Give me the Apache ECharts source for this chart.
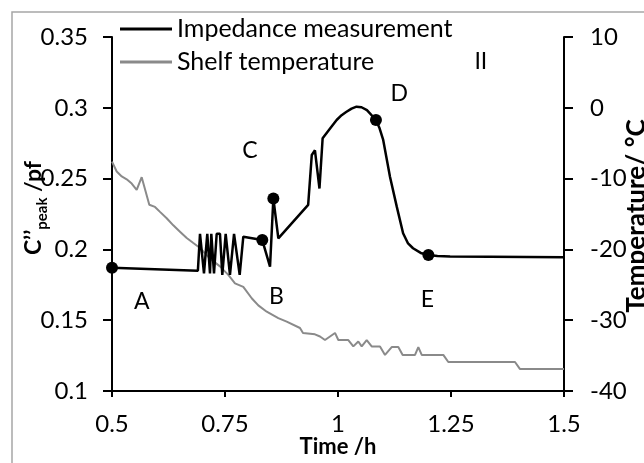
<!DOCTYPE html>
<html>
<head>
<meta charset="utf-8">
<script src="https://cdn.jsdelivr.net/npm/echarts@6/dist/echarts.min.js"></script>
<style>
  html, body { margin: 0; padding: 0; background: #fff; }
  #chart { width: 644px; height: 463px; }
</style>
</head>
<body>
<div id="chart"></div>
<script>
// impedance measurement (left axis)
const impTime = [0.5, 0.69, 0.6947, 0.7035, 0.7108, 0.7168, 0.7197, 0.7257, 0.7316, 0.7389, 0.744, 0.7515, 0.761, 0.770, 0.7825, 0.7905,
  0.8325, 0.8496, 0.857, 0.868, 0.934, 0.942, 0.949, 0.959, 0.966, 0.985, 0.997, 1.008, 1.018, 1.03, 1.041, 1.052, 1.064, 1.084,
  1.092, 1.100, 1.115, 1.130, 1.144, 1.155, 1.166, 1.183, 1.200, 1.22, 1.248, 1.336, 1.5];
const impValue = [0.187, 0.185, 0.211, 0.183, 0.211, 0.183, 0.211, 0.183, 0.211, 0.211, 0.182, 0.211, 0.182, 0.211, 0.182, 0.209,
  0.2066, 0.1878, 0.236, 0.2078, 0.2314, 0.2667, 0.270, 0.243, 0.2785, 0.2865, 0.2914, 0.2948, 0.297, 0.2994, 0.3008, 0.3004, 0.2984, 0.2914,
  0.2855, 0.2773, 0.2513, 0.2302, 0.2114, 0.2042, 0.2008, 0.1975, 0.196, 0.1953, 0.195, 0.1948, 0.1945];

// marked points on the impedance curve
const markTime = [0.5, 0.8325, 0.857, 1.084, 1.2];
const markValue = [0.187, 0.2066, 0.236, 0.2914, 0.196];

// shelf temperature (right axis)
const tempTime = [0.5, 0.5104, 0.5215, 0.5325, 0.5436, 0.5546, 0.5657, 0.5825, 0.5951, 0.6062, 0.621, 0.6356, 0.6504, 0.6653,
  0.6799, 0.6947, 0.7168, 0.7389, 0.7573, 0.7721, 0.7905, 0.8091, 0.8237, 0.8423, 0.8679, 0.8865, 0.9159, 0.9226,
  0.949, 0.9602, 0.9712, 0.9823, 0.9934, 1.0007, 1.0228, 1.0339, 1.0449, 1.0524, 1.0635, 1.0745, 1.0929, 1.104,
  1.1188, 1.1334, 1.1431, 1.1704, 1.1777, 1.1852, 1.233, 1.244, 1.3916, 1.4027, 1.5];
const tempValue = [-7.6, -9.0, -9.7, -10.1, -10.7, -11.6, -9.8, -13.7, -14.0, -14.7, -15.6, -16.6, -17.5, -18.4,
  -19.1, -19.8, -21.3, -22.4, -23.6, -24.8, -25.3, -26.9, -27.9, -28.8, -29.7, -30.2, -31.1, -31.8,
  -32.0, -32.3, -32.8, -32.3, -31.8, -32.8, -32.8, -33.7, -33.0, -33.7, -32.8, -33.7, -33.7, -34.9,
  -33.8, -33.8, -34.9, -34.9, -33.8, -34.9, -34.9, -35.9, -35.9, -36.9, -36.9];

// stage letters (left axis units)
const annoText = ['A', 'B', 'C', 'D', 'II', 'E'];
const annoTime = [0.5657, 0.864, 0.805, 1.1356, 1.316, 1.1976];
const annoValue = [0.163, 0.1666, 0.270, 0.3097, 0.3326, 0.1643];

const xTicks = [0.5, 0.75, 1, 1.25, 1.5];

const font = 'Lato, "Open Sans", sans-serif';
const myChart = echarts.init(document.getElementById('chart'));

const zip = (a, b) => a.map((v, i) => [v, b[i]]);

const option = {
  backgroundColor: '#fff',
  animation: false,
  textStyle: { fontFamily: font },
  grid: { left: 112, right: 80, top: 37, bottom: 72 },
  legend: {
    orient: 'vertical',
    left: 120,
    top: 16,
    padding: 0,
    itemWidth: 52,
    itemHeight: 3,
    itemGap: 7,
    data: [
      { name: 'Impedance measurement', icon: 'rect' },
      { name: 'Shelf temperature', icon: 'rect' }
    ],
    textStyle: { fontSize: 25, color: '#000', lineHeight: 26, fontFamily: font }
  },
  xAxis: {
    type: 'value',
    min: 0.5,
    max: 1.5,
    interval: 0.25,
    splitLine: { show: false },
    axisLine: { onZero: false, lineStyle: { color: '#000', width: 2 } },
    axisTick: { length: 6, lineStyle: { color: '#000', width: 2 } },
    axisLabel: {
      color: '#000', fontSize: 24, margin: 21, fontFamily: font,
      formatter: v => xTicks.includes(v) ? String(v) : ''
    }
  },
  yAxis: [
    {
      type: 'value',
      min: 0.1,
      max: 0.35,
      interval: 0.05,
      splitLine: { show: false },
      axisLine: { show: true, onZero: false, lineStyle: { color: '#000', width: 2 } },
      axisTick: { show: true, length: 9, lineStyle: { color: '#000', width: 2 } },
      axisLabel: { color: '#000', fontSize: 24, margin: 24, fontFamily: font,
        formatter: v => String(Math.round(v * 100) / 100) }
    },
    {
      type: 'value',
      position: 'right',
      min: -40,
      max: 10,
      interval: 10,
      splitLine: { show: false },
      axisLine: { show: true, onZero: false, lineStyle: { color: '#000', width: 2 } },
      axisTick: { show: true, length: 9, lineStyle: { color: '#000', width: 2 } },
      axisLabel: { color: '#000', fontSize: 24, margin: 26, fontFamily: font }
    }
  ],
  series: [
    {
      name: 'Impedance measurement',
      type: 'line',
      yAxisIndex: 0,
      data: zip(impTime, impValue),
      symbol: 'none',
      z: 3,
      lineStyle: { color: '#000', width: 2.5 },
      itemStyle: { color: '#000' }
    },
    {
      name: 'Shelf temperature',
      type: 'line',
      yAxisIndex: 1,
      data: zip(tempTime, tempValue),
      symbol: 'none',
      z: 2,
      lineStyle: { color: '#8a8a8a', width: 2 },
      itemStyle: { color: '#8a8a8a' }
    },
    {
      name: 'points',
      type: 'scatter',
      yAxisIndex: 0,
      data: zip(markTime, markValue),
      symbolSize: 12,
      z: 4,
      itemStyle: { color: '#000', opacity: 1 }
    },
    {
      name: 'letters',
      type: 'scatter',
      yAxisIndex: 0,
      data: annoTime.map((t, i) => ({ value: [t, annoValue[i]], label: { formatter: annoText[i] } })),
      symbolSize: 1,
      itemStyle: { color: 'rgba(0,0,0,0)', opacity: 1 },
      label: {
        show: true, position: 'inside', color: '#000', opacity: 1, fontSize: 23, fontFamily: font
      }
    }
  ],
  graphic: [
    {
      type: 'rect',
      shape: { x: 12, y: 12, width: 640, height: 460 },
      style: { fill: 'none', stroke: '#a6a6a6', lineWidth: 1.5 },
      silent: true
    },
    {
      type: 'text',
      x: 338, y: 447,
      style: {
        text: 'Time /h', fill: '#000', font: 'bold 22px ' + font,
        textAlign: 'center', textVerticalAlign: 'middle'
      }
    },
    {
      type: 'text',
      x: 34, y: 208,
      rotation: Math.PI / 2,
      style: {
        text: '{a|C’’}{b|peak}{a| /pf}',
        textAlign: 'center', textVerticalAlign: 'middle',
        rich: {
          a: { fontSize: 23, fontWeight: 'bold', fontFamily: font, fill: '#000', color: '#000', verticalAlign: 'bottom' },
          b: { fontSize: 15, fontWeight: 'bold', fontFamily: font, fill: '#000', color: '#000', verticalAlign: 'bottom', padding: [0, 0, -4, 0] }
        }
      }
    },
    {
      type: 'text',
      x: 637, y: 216,
      rotation: Math.PI / 2,
      style: {
        text: 'Temperature/ °C', fill: '#000', font: 'bold 26px ' + font,
        textAlign: 'center', textVerticalAlign: 'middle'
      }
    }
  ]
};
option && myChart.setOption(option);
</script>
</body>
</html>
